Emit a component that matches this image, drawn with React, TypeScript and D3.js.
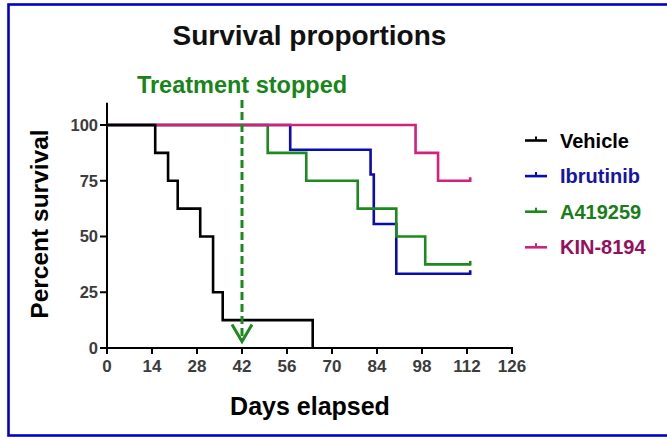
import React from "react";
import * as d3 from "d3";

// Kaplan–Meier steps: event day and percent surviving from that day on
const vehicleDays = [0, 15, 19, 22, 29, 33, 36, 64];
const vehicleSurvival = [100, 87.5, 75, 62.5, 50, 25, 12.5, 0];

const ibrutinibDays = [0, 57, 82, 83, 90, 113];
const ibrutinibSurvival = [100, 88.9, 77.8, 55.6, 33.3, 33.3];

const a419259Days = [0, 50, 62, 78, 90, 99, 113];
const a419259Survival = [100, 87.5, 75, 62.5, 50, 37.5, 37.5];

const kinDays = [0, 96, 103, 113];
const kinSurvival = [100, 87.5, 75, 75];

const groupNames = ["Vehicle", "Ibrutinib", "A419259", "KIN-8194"];
const xTicks = [0, 14, 28, 42, 56, 70, 84, 98, 112, 126];
const yTicks = [0, 25, 50, 75, 100];
const treatmentStopDay = 42;

const FONT = "'Liberation Sans', Arial, Helvetica, sans-serif";

type Group = {
  name: string;
  days: number[];
  survival: number[];
  line: string;
  text: string;
  censored: boolean;
};

const groups: Group[] = [
  { name: groupNames[0], days: vehicleDays, survival: vehicleSurvival, line: "#000000", text: "#000000", censored: false },
  { name: groupNames[1], days: ibrutinibDays, survival: ibrutinibSurvival, line: "#0b0bb4", text: "#1414a8", censored: true },
  { name: groupNames[2], days: a419259Days, survival: a419259Survival, line: "#1c8a1c", text: "#1a7d1a", censored: true },
  { name: groupNames[3], days: kinDays, survival: kinSurvival, line: "#d2207c", text: "#960f5c", censored: true },
];

// drawing order: Vehicle last so it sits on top
const drawOrder = [1, 2, 3, 0];

export default function App() {
  const width = 667;
  const height = 441;

  const x = d3.scaleLinear().domain([0, 126]).range([107, 512]);
  const y = d3.scaleLinear().domain([0, 110]).range([348, 102.7]);

  const line = d3
    .line<[number, number]>()
    .x((d) => x(d[0]))
    .y((d) => y(d[1]))
    .curve(d3.curveStepAfter);

  const arrowX = x(treatmentStopDay);
  const arrowTip = 341.5;
  const green = "#1c8a1c";

  const legendX = 525;
  const legendY0 = 140.5;
  const legendStep = 35.6;

  return (
    <svg
      width={width}
      height={height}
      style={{ position: "absolute", left: 0, top: 0, background: "#ffffff" }}
      fontFamily={FONT}
    >
      <rect x={0} y={0} width={width} height={height} fill="#ffffff" />
      {/* frame */}
      <rect x={8.5} y={4.5} width={664} height={431} fill="none" stroke="#0000cc" strokeWidth={2.6} />

      {/* title */}
      <text x={309.5} y={45} textAnchor="middle" fontSize={28} fontWeight="bold" fill="#111">
        Survival proportions
      </text>

      {/* axes */}
      <line x1={x(0)} x2={x(0)} y1={y(110)} y2={y(0) + 1} stroke="#000" strokeWidth={2} />
      <line x1={x(0) - 1} x2={x(126) + 1} y1={y(0)} y2={y(0)} stroke="#000" strokeWidth={2} />
      {yTicks.map((t) => (
        <g key={"y" + t}>
          <line x1={x(0) - 7} x2={x(0)} y1={y(t)} y2={y(t)} stroke="#000" strokeWidth={2} />
          <text
            x={x(0) - 9}
            y={y(t)}
            dy="0.36em"
            textAnchor="end"
            fontSize={16.5}
            fontWeight="bold"
            fill="#3c3c3c"
          >
            {t}
          </text>
        </g>
      ))}
      {xTicks.map((t) => (
        <g key={"x" + t}>
          <line x1={x(t)} x2={x(t)} y1={y(0)} y2={y(0) + 6} stroke="#000" strokeWidth={2} />
          <text x={x(t)} y={372} textAnchor="middle" fontSize={17} fontWeight="bold" fill="#3c3c3c">
            {t}
          </text>
        </g>
      ))}

      {/* axis titles */}
      <text x={310} y={415} textAnchor="middle" fontSize={25} fontWeight="bold" fill="#000">
        Days elapsed
      </text>
      <text
        transform={`translate(48, 224) rotate(-90)`}
        textAnchor="middle"
        fontSize={24.5}
        fontWeight="bold"
        fill="#000"
      >
        Percent survival
      </text>

      {/* survival curves */}
      {drawOrder.map((i) => {
        const g = groups[i];
        const pts = g.days.map((d, k) => [d, g.survival[k]] as [number, number]);
        const last = pts[pts.length - 1];
        return (
          <g key={g.name}>
            <path d={line(pts) ?? ""} fill="none" stroke={g.line} strokeWidth={2.6} strokeLinejoin="miter" />
            {g.censored && (
              <line
                x1={x(last[0])}
                x2={x(last[0])}
                y1={y(last[1]) + 1.2}
                y2={y(last[1]) - 3.5}
                stroke={g.line}
                strokeWidth={2.6}
              />
            )}
          </g>
        );
      })}

      {/* treatment stopped marker */}
      <text x={arrowX} y={93} textAnchor="middle" fontSize={23.5} fontWeight="bold" fill="#178517">
        Treatment stopped
      </text>
      <line
        x1={arrowX}
        x2={arrowX}
        y1={100}
        y2={arrowTip - 4}
        stroke={green}
        strokeWidth={3}
        strokeDasharray="8 4"
      />
      <polyline
        points={`${arrowX - 10},${arrowTip - 17} ${arrowX},${arrowTip} ${arrowX + 10},${arrowTip - 17}`}
        fill="none"
        stroke={green}
        strokeWidth={3}
      />

      {/* legend */}
      {groups.map((g, i) => {
        const ly = legendY0 + i * legendStep;
        return (
          <g key={"lg" + g.name}>
            <line x1={legendX} x2={legendX + 22} y1={ly} y2={ly} stroke={g.line} strokeWidth={2.6} />
            <line x1={legendX + 11} x2={legendX + 11} y1={ly} y2={ly - 4} stroke={g.line} strokeWidth={2} />
            <text x={560} y={ly + 7} fontSize={20} fontWeight="bold" fill={g.text}>
              {g.name}
            </text>
          </g>
        );
      })}
    </svg>
  );
}
